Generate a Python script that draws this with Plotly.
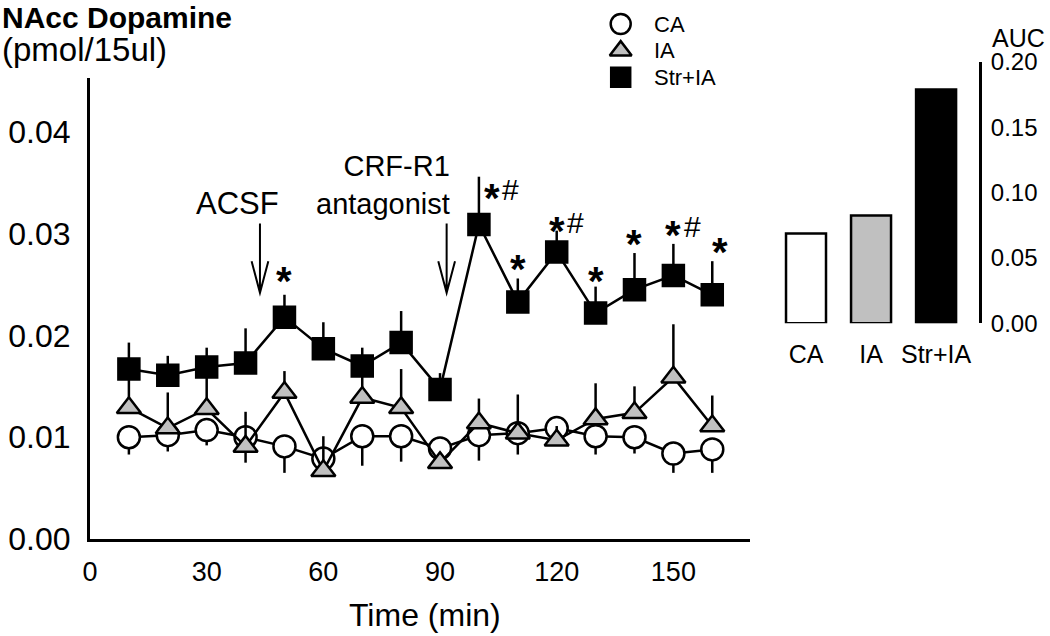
import plotly.graph_objects as go

# ---------------- data ----------------
times = [10, 20, 30, 40, 50, 60, 70, 80, 90, 100, 110, 120, 130, 140, 150, 160]
ca_mean = [0.0100, 0.0102, 0.0107, 0.0100, 0.0091, 0.0079, 0.0101, 0.0101,
           0.0089, 0.0102, 0.0104, 0.0109, 0.0101, 0.0100, 0.0084, 0.0088]
ca_sem = [0.0017, 0.0016, 0.0015, 0.0025, 0.0026, 0.0015, 0.0029, 0.0025,
          0.0012, 0.0025, 0.0021, 0.0010, 0.0018, 0.0016, 0.0019, 0.0023]
ia_mean = [0.0129, 0.0109, 0.0128, 0.0091, 0.0144, 0.0067, 0.0139, 0.0129,
           0.0075, 0.0114, 0.0104, 0.0097, 0.0118, 0.0124, 0.0159, 0.0111]
ia_sem = [0.0030, 0.0035, 0.0042, 0.0034, 0.0021, 0.0034, 0.0027, 0.0038,
          0.0010, 0.0024, 0.0038, 0.0014, 0.0035, 0.0026, 0.0052, 0.0030]
str_mean = [0.0167, 0.0161, 0.0169, 0.0173, 0.0218, 0.0187, 0.0170, 0.0193,
            0.0147, 0.0309, 0.0233, 0.0282, 0.0222, 0.0245, 0.0259, 0.0240]
str_sem = [0.0026, 0.0019, 0.0019, 0.0034, 0.0022, 0.0026, 0.0018, 0.0031,
           0.0016, 0.0047, 0.0023, 0.0021, 0.0026, 0.0036, 0.0031, 0.0033]

x_ticks = [0, 30, 60, 90, 120, 150]
y_ticks = [0.00, 0.01, 0.02, 0.03, 0.04]

series_names = ["CA", "IA", "Str+IA"]

auc_groups = ["CA", "IA", "Str+IA"]
auc_values = [0.0687, 0.0825, 0.1787]
auc_ticks = [0.00, 0.05, 0.10, 0.15, 0.20]

sig_times = [50, 100, 110, 120, 130, 140, 150, 160]
sig_labels = ["*", "*#", "*", "*#", "*", "*", "*#", "*"]

event_names = ["ACSF", "CRF-R1<br>antagonist"]
event_times = [43.7, 91.7]

# ---------------- styles ----------------
W, H = 1050, 636
FONT = "Liberation Sans, Arial, sans-serif"
BLACK = "black"
GREY = "#c0c0c0"


def px_x(p):
    return p / W


def px_y(p):
    return 1 - p / H


fig = go.Figure()

styles = {
    "CA": dict(symbol="circle", color="white", size=22),
    "IA": dict(symbol="triangle-up", color=GREY, size=21),
    "Str+IA": dict(symbol="square", color=BLACK, size=21),
}
means = {"CA": ca_mean, "IA": ia_mean, "Str+IA": str_mean}
sems = {"CA": ca_sem, "IA": ia_sem, "Str+IA": str_sem}

for name in series_names:
    st = styles[name]
    if name == "CA":
        err = dict(type="data", symmetric=False, array=[0] * len(times),
                   arrayminus=sems[name], thickness=2.5, width=0, color=BLACK)
    else:
        err = dict(type="data", symmetric=False, array=sems[name],
                   arrayminus=[0] * len(times), thickness=2.5, width=0, color=BLACK)
    fig.add_trace(go.Scatter(
        x=times, y=means[name], name=name, mode="lines+markers",
        line=dict(color=BLACK, width=2.5),
        marker=dict(symbol=st["symbol"], size=st["size"], color=st["color"],
                    line=dict(color=BLACK, width=2.5)),
        error_y=err, showlegend=False, cliponaxis=False,
        xaxis="x", yaxis="y"))

# AUC bars
fig.add_trace(go.Bar(
    x=list(range(len(auc_groups))), y=auc_values, width=0.615,
    marker=dict(color=["white", GREY, BLACK], line=dict(color=BLACK, width=2.5)),
    xaxis="x2", yaxis="y2", showlegend=False))

# legend drawn on hidden axes
for i, name in enumerate(series_names):
    st = styles[name]
    fig.add_trace(go.Scatter(
        x=[0], y=[i], mode="markers", showlegend=False,
        marker=dict(symbol=st["symbol"], size=st["size"] - 2, color=st["color"],
                    line=dict(color=BLACK, width=2.5)),
        xaxis="x3", yaxis="y3", cliponaxis=False))

annotations = []
for i, name in enumerate(series_names):
    annotations.append(dict(
        x=px_x(652), y=i, xref="paper", yref="y3", text=name, showarrow=False,
        xanchor="left", yanchor="middle", font=dict(family=FONT, size=22, color=BLACK)))

# significance marks: (x shift px, glyph height above error-bar top px)
default_off = (0, 15)
special_off = {50: (0, 20), 100: (13, -15), 120: (0, 6), 130: (0, 12), 160: (8, 15)}
for t, lab in zip(sig_times, sig_labels):
    i = times.index(t)
    top = str_mean[i] + str_sem[i]
    dx, above = special_off.get(t, default_off)
    annotations.append(dict(
        x=t, y=top, xref="x", yref="y", text="<b>*</b>", showarrow=False,
        xanchor="center", yanchor="middle", xshift=dx, yshift=above - 6,
        font=dict(family=FONT, size=40, color=BLACK)))
    if "#" in lab:
        annotations.append(dict(
            x=t, y=top, xref="x", yref="y", text="#", showarrow=False,
            xanchor="center", yanchor="middle", xshift=dx + 19, yshift=above + 2,
            font=dict(family=FONT, size=30, color=BLACK)))

# event arrows + labels
shapes = []
arrow_top = 0.0310
arrow_tip = 0.0242
v_dx, v_dy = 2.15, 0.0031
for name, t in zip(event_names, event_times):
    path = (f"M {t},{arrow_top} L {t},{arrow_tip} "
            f"M {t - v_dx},{arrow_tip + v_dy} L {t},{arrow_tip} L {t + v_dx},{arrow_tip + v_dy}")
    shapes.append(dict(type="path", path=path, xref="x", yref="y",
                       line=dict(color=BLACK, width=2)))
annotations.append(dict(x=event_times[0] - 5.7, y=0.0330, xref="x", yref="y",
                        text=event_names[0], showarrow=False, xanchor="center",
                        yanchor="middle", font=dict(family=FONT, size=31, color=BLACK)))
annotations.append(dict(x=event_times[1] + 1.4, y=0.0348, xref="x", yref="y",
                        text=event_names[1], showarrow=False, xanchor="right", align="right",
                        yanchor="middle", font=dict(family=FONT, size=29, color=BLACK)))

# titles
annotations += [
    dict(x=0, y=px_y(17), xref="paper", yref="paper", text="<b>NAcc Dopamine</b>",
         showarrow=False, xanchor="left", yanchor="middle",
         font=dict(family=FONT, size=30, color=BLACK)),
    dict(x=0, y=px_y(50), xref="paper", yref="paper", text="(pmol/15ul)",
         showarrow=False, xanchor="left", yanchor="middle",
         font=dict(family=FONT, size=33, color=BLACK)),
    dict(x=px_x(425), y=px_y(615), xref="paper", yref="paper", text="Time (min)",
         showarrow=False, xanchor="center", yanchor="middle",
         font=dict(family=FONT, size=32, color=BLACK)),
    dict(x=px_x(1018), y=px_y(38), xref="paper", yref="paper", text="AUC",
         showarrow=False, xanchor="center", yanchor="middle",
         font=dict(family=FONT, size=25, color=BLACK)),
]

fig.update_layout(
    width=W, height=H,
    margin=dict(l=0, r=0, t=0, b=0, pad=0, autoexpand=False),
    paper_bgcolor="white", plot_bgcolor="rgba(0,0,0,0)",
    showlegend=False,
    font=dict(family=FONT, color=BLACK),
    xaxis=dict(domain=[px_x(90), px_x(750)], range=[0, 169.7],
               tickvals=x_ticks, ticktext=[str(v) for v in x_ticks],
               showline=True, linecolor=BLACK, linewidth=3, showgrid=False,
               zeroline=False, ticks="", ticklabelstandoff=7, automargin=False,
               tickfont=dict(family=FONT, size=27, color=BLACK), anchor="y"),
    yaxis=dict(domain=[px_y(539), px_y(78)], range=[0, 0.0453],
               tickvals=y_ticks, ticktext=[f"{v:.2f}" for v in y_ticks],
               showline=True, linecolor=BLACK, linewidth=3, showgrid=False,
               zeroline=False, ticks="", ticklabelstandoff=10, automargin=False,
               tickfont=dict(family=FONT, size=32, color=BLACK), anchor="x"),
    xaxis2=dict(domain=[px_x(773.5), px_x(979)], range=[-0.5, 2.66],
                tickvals=list(range(len(auc_groups))), ticktext=auc_groups,
                showline=False, showgrid=False, zeroline=False, ticks="",
                ticklabelstandoff=14, automargin=False,
                tickfont=dict(family=FONT, size=25, color=BLACK), anchor="y2"),
    yaxis2=dict(domain=[px_y(323.3), px_y(61.7)], range=[0, 0.2], side="right",
                tickvals=auc_ticks, ticktext=[f"{v:.2f}" for v in auc_ticks],
                showline=True, linecolor=BLACK, linewidth=3, showgrid=False,
                zeroline=False, ticks="", ticklabelstandoff=4, automargin=False,
                tickfont=dict(family=FONT, size=24, color=BLACK), anchor="x2"),
    xaxis3=dict(domain=[px_x(600.7), px_x(640.7)], range=[-1, 1], visible=False,
                anchor="y3", fixedrange=True),
    yaxis3=dict(domain=[px_y(90.6), px_y(10.7)], range=[2.5, -0.5], visible=False,
                anchor="x3", fixedrange=True),
    annotations=annotations,
    shapes=shapes,
)

fig.write_html("out.html", config={"displayModeBar": False},
               post_script="document.body.style.margin='0px';")
